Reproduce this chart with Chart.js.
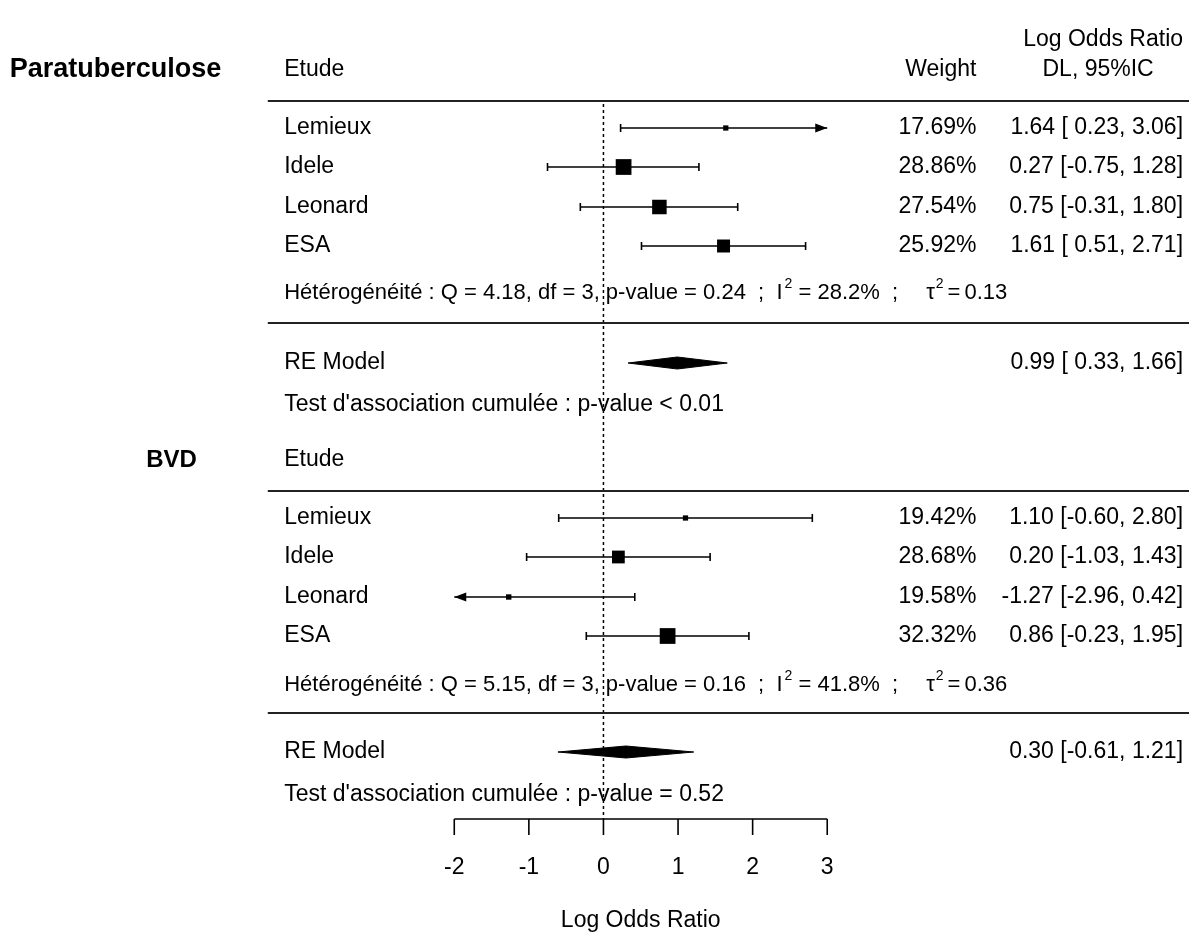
<!DOCTYPE html>
<html>
<head>
<meta charset="utf-8">
<script src="https://cdn.jsdelivr.net/npm/chart.js@4.4.1/dist/chart.umd.min.js"></script>
<style>
  html, body { margin: 0; padding: 0; background: #fff; }
  canvas { display: block; }
</style>
</head>
<body>
<canvas id="forest" width="1189" height="938"></canvas>
<script>
var etudes = ["Lemieux", "Idele", "Leonard", "ESA"];

// Paratuberculose
var paraEst = [1.64, 0.27, 0.75, 1.61];
var paraLo = [0.23, -0.75, -0.31, 0.51];
var paraHi = [3.06, 1.28, 1.80, 2.71];
var paraPoids = [17.69, 28.86, 27.54, 25.92];
var paraRE = [0.99, 0.33, 1.66];          // estimation, borne inf, borne sup
var paraHet = ["4.18", "3", "0.24", "28.2", "0.13"]; // Q, df, p, I2, tau2
var paraTest = "< 0.01";

// BVD
var bvdEst = [1.10, 0.20, -1.27, 0.86];
var bvdLo = [-0.60, -1.03, -2.96, -0.23];
var bvdHi = [2.80, 1.43, 0.42, 1.95];
var bvdPoids = [19.42, 28.68, 19.58, 32.32];
var bvdRE = [0.30, -0.61, 1.21];
var bvdHet = ["5.15", "3", "0.16", "41.8", "0.36"];
var bvdTest = "= 0.52";

var ticks = [-2, -1, 0, 1, 2, 3];
var alim = [-2, 3];

// mise en page (x en unités log OR, y en pixels depuis le haut)
var xlim = [-4.5, 7.85];
var xEtude = -4.28, xPoids = 5.0, xValeur = 7.77;
var paraY = { titre: 70, ligne1: 101, rows: [128, 167, 207, 246], het: 293, ligne2: 323, re: 363, test: 405 };
var bvdY = { titre: 460, ligne1: 491, rows: [518, 557, 597, 636], het: 685, ligne2: 713, re: 752, test: 795 };
var axeY = 819;

var FAM = '"Liberation Sans", Arial, sans-serif';
var FONT = '23px ' + FAM;
var HET = '22px ' + FAM;
var SUP = '14px ' + FAM;

function pad(v, w) {
  var s = v.toFixed(2);
  while (s.length < w) s = " " + s;
  return s;
}

// colonne "estimation [IC]" alignée comme formatC()
function colonneValeurs(est, lo, hi, re) {
  var e = est.concat([re[0]]), l = lo.concat([re[1]]), h = hi.concat([re[2]]);
  var larg = function (arr) {
    return Math.max.apply(null, arr.map(function (v) { return v.toFixed(2).length; }));
  };
  var we = larg(e), wl = larg(l), wh = larg(h);
  return e.map(function (v, i) {
    return pad(v, we) + " [" + pad(l[i], wl) + ", " + pad(h[i], wh) + "]";
  });
}

var datasets = [];

function segment(x0, y0, x1, y1, couleur, largeur, dash) {
  datasets.push({
    type: 'scatter', showLine: true,
    data: [{ x: x0, y: y0 }, { x: x1, y: y1 }],
    borderColor: couleur, borderWidth: largeur, borderDash: dash || [],
    pointRadius: 0
  });
}

function groupe(est, lo, hi, poids, Y, re) {
  segment(xlim[0], Y.ligne1, xlim[1], Y.ligne1, '#222', 1.8);
  segment(xlim[0], Y.ligne2, xlim[1], Y.ligne2, '#222', 1.8);

  // intervalles de confiance
  for (var i = 0; i < est.length; i++) {
    var a = Math.max(lo[i], alim[0]), b = Math.min(hi[i], alim[1]);
    datasets.push({
      type: 'scatter', showLine: true,
      data: [{ x: a, y: Y.rows[i] }, { x: b, y: Y.rows[i] }],
      borderColor: '#000', borderWidth: 1.6,
      pointStyle: 'line', rotation: 90,
      pointRadius: [lo[i] < alim[0] ? 0 : 4, hi[i] > alim[1] ? 0 : 4],
      pointBorderColor: '#000', pointBorderWidth: 1.6
    });
  }

  // carrés proportionnels aux poids
  var mn = Math.min.apply(null, poids), mx = Math.max.apply(null, poids);
  datasets.push({
    type: 'scatter',
    data: est.map(function (v, i) { return { x: v, y: Y.rows[i] }; }),
    pointStyle: 'rect',
    pointRadius: poids.map(function (w) {
      var psize = 0.5 + (w - mn) / (mx - mn);
      return 10.5 * psize / 1.4142;
    }),
    backgroundColor: '#000', borderWidth: 0
  });

  // losange du modèle RE
  var h = 6;
  datasets.push({
    type: 'scatter', showLine: true,
    data: [
      { x: re[1], y: Y.re }, { x: re[0], y: Y.re - h },
      { x: re[2], y: Y.re }, { x: re[0], y: Y.re + h }, { x: re[1], y: Y.re }
    ],
    borderColor: '#000', borderWidth: 1, backgroundColor: '#000',
    fill: 'shape', pointRadius: 0, tension: 0
  });
}

groupe(paraEst, paraLo, paraHi, paraPoids, paraY, paraRE);
groupe(bvdEst, bvdLo, bvdHi, bvdPoids, bvdY, bvdRE);

// ligne de référence à 0
segment(0, paraY.ligne1 + 3, 0, axeY, '#000', 1.5, [3, 3]);

function texteRiche(ctx, morceaux, x, y) {
  morceaux.forEach(function (m) {
    if (m.gap) { x += m.gap; return; }
    ctx.font = m.sup ? SUP : HET;
    ctx.fillText(m.t, x, m.sup ? y - 9 : y);
    x += ctx.measureText(m.t).width;
  });
}

var textes = {
  id: 'textes',
  afterDatasetsDraw: function (chart) {
    var ctx = chart.ctx, sx = chart.scales.x, sy = chart.scales.y;
    var px = function (v) { return sx.getPixelForValue(v); };
    var py = function (v) { return sy.getPixelForValue(v); };
    ctx.save();
    ctx.fillStyle = '#000';
    ctx.textBaseline = 'middle';

    function txt(t, x, y, align, font) {
      ctx.font = font || FONT;
      ctx.textAlign = align || 'left';
      ctx.fillText(t, px(x), py(y));
    }

    function fleche(x, y, dir) {
      var tx = px(x), ty = py(y);
      ctx.beginPath();
      ctx.moveTo(tx, ty);
      ctx.lineTo(tx - dir * 12, ty - 4.5);
      ctx.lineTo(tx - dir * 12, ty + 4.5);
      ctx.closePath();
      ctx.fill();
    }

    // en-têtes
    txt("Log Odds Ratio", xValeur, 40, 'right');
    ctx.font = FONT;
    var wLOR = ctx.measureText("Log Odds Ratio").width;
    ctx.textAlign = 'center';
    ctx.fillText("DL, 95%IC", px(xValeur) - wLOR / 2 - 5, py(paraY.titre));
    txt("Weight", xPoids, paraY.titre, 'right');

    function bloc(nom, est, lo, hi, poids, re, het, test, Y, xNom, fontNom) {
      txt(nom, xNom, Y.titre, 'left', fontNom);
      txt("Etude", xEtude, Y.titre);
      var vals = colonneValeurs(est, lo, hi, re);
      for (var i = 0; i < etudes.length; i++) {
        txt(etudes[i], xEtude, Y.rows[i]);
        txt(poids[i].toFixed(2) + "%", xPoids, Y.rows[i], 'right');
        txt(vals[i], xValeur, Y.rows[i], 'right');
        if (lo[i] < alim[0]) fleche(alim[0], Y.rows[i], -1);
        if (hi[i] > alim[1]) fleche(alim[1], Y.rows[i], 1);
      }
      ctx.textAlign = 'left';
      texteRiche(ctx, [
        { t: "Hétérogénéité : Q = " + het[0] + ", df = " + het[1] + ", p-value = " + het[2] + "  ;  I" },
        { gap: 2 }, { t: "2", sup: true },
        { t: " = " + het[3] + "%  ;" },
        { gap: 28 }, { t: "τ" },
        { gap: 1 }, { t: "2", sup: true }, { gap: 4 },
        { t: "=" }, { gap: 4 }, { t: het[4] }
      ], px(xEtude), py(Y.het));
      txt("RE Model", xEtude, Y.re);
      txt(vals[etudes.length], xValeur, Y.re, 'right');
      txt("Test d'association cumulée : p-value " + test, xEtude, Y.test);
    }

    bloc("Paratuberculose", paraEst, paraLo, paraHi, paraPoids, paraRE, paraHet, paraTest, paraY, -7.96, 'bold 27px ' + FAM);
    bloc("BVD", bvdEst, bvdLo, bvdHi, bvdPoids, bvdRE, bvdHet, bvdTest, bvdY, -6.13, 'bold 24px ' + FAM);

    // axe des x
    ctx.strokeStyle = '#000';
    ctx.lineWidth = 1.6;
    ctx.beginPath();
    ctx.moveTo(px(alim[0]), py(axeY));
    ctx.lineTo(px(alim[1]), py(axeY));
    ticks.forEach(function (t) {
      ctx.moveTo(px(t), py(axeY));
      ctx.lineTo(px(t), py(axeY + 16));
    });
    ctx.stroke();
    ticks.forEach(function (t) {
      txt(String(t), t, 868, 'center');
    });
    txt("Log Odds Ratio", (alim[0] + alim[1]) / 2, 921, 'center');
    ctx.restore();
  }
};

new Chart(document.getElementById('forest').getContext('2d'), {
  type: 'scatter',
  data: { datasets: datasets },
  options: {
    responsive: false,
    animation: false,
    layout: { padding: 0, autoPadding: false },
    plugins: { legend: { display: false }, tooltip: { enabled: false } },
    scales: {
      x: { type: 'linear', min: -8.09, max: 7.85, display: false },
      y: { type: 'linear', min: 0, max: 938, reverse: true, display: false }
    }
  },
  plugins: [textes]
});
</script>
</body>
</html>
